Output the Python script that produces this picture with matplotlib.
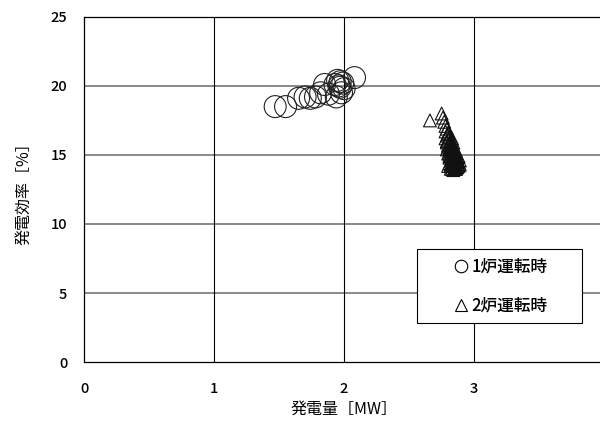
import matplotlib.pyplot as plt
from matplotlib.lines import Line2D
from matplotlib.patches import Rectangle

plt.rcParams['font.family'] = ['Noto Sans CJK JP', 'DejaVu Sans']
plt.rcParams['font.weight'] = 'medium'

# 1炉運転時
one_x = [1.47, 1.55, 1.65, 1.70, 1.74, 1.78, 1.82, 1.85, 1.88, 1.93, 1.95, 1.97,
         1.99, 1.98, 1.94, 1.96, 2.00, 1.97, 2.08]
one_y = [18.5, 18.5, 19.1, 19.2, 19.1, 19.2, 19.5, 20.1, 19.4, 20.1, 20.4, 19.9,
         20.2, 19.5, 19.2, 20.0, 19.8, 20.3, 20.6]

# 2炉運転時
two_x = [2.66, 2.75, 2.76, 2.77, 2.78, 2.79, 2.78, 2.80, 2.79, 2.81, 2.80, 2.82,
         2.79, 2.81, 2.83, 2.80, 2.82, 2.84, 2.81, 2.83, 2.85, 2.80, 2.82, 2.84,
         2.86, 2.81, 2.83, 2.85, 2.87, 2.82, 2.84, 2.86, 2.88, 2.81, 2.83, 2.85,
         2.87, 2.82, 2.84, 2.86, 2.88, 2.83, 2.85, 2.87, 2.82, 2.84, 2.86, 2.84,
         2.85, 2.83, 2.78, 2.80, 2.82, 2.79, 2.81, 2.83, 2.85, 2.87, 2.89, 2.88,
         2.86, 2.84, 2.82, 2.89, 2.87, 2.85, 2.83, 2.81, 2.84, 2.86, 2.80, 2.82,
         2.79, 2.80, 2.81, 2.83, 2.82, 2.84, 2.86, 2.88]
two_y = [17.5, 18.0, 17.7, 17.4, 17.1, 16.9, 16.7, 16.6, 16.4, 16.3, 16.1, 16.0,
         15.9, 15.8, 15.7, 15.6, 15.5, 15.4, 15.3, 15.3, 15.2, 15.1, 15.0, 15.0,
         14.9, 14.8, 14.8, 14.7, 14.7, 14.6, 14.6, 14.5, 14.5, 14.4, 14.4, 14.3,
         14.3, 14.2, 14.2, 14.1, 14.2, 14.0, 14.0, 14.1, 14.3, 14.5, 14.0, 13.9,
         14.1, 15.5, 16.2, 16.5, 15.9, 15.4, 15.1, 15.2, 15.0, 14.8, 14.6, 14.9,
         15.3, 15.6, 14.9, 14.3, 14.5, 14.4, 14.6, 14.9, 15.9, 14.0, 14.2, 14.0,
         16.0, 15.7, 15.5, 16.2, 15.6, 15.7, 15.1, 14.3]

x_ticks = [0, 1, 2, 3, 4]
y_ticks = [0, 5, 10, 15, 20, 25]
labels = ['1炉運転時', '2炉運転時']

fig = plt.figure(figsize=(6, 4.21), dpi=100)
ax = fig.add_axes([0.14, 0.14, 0.867, 0.82])

ax.scatter(one_x, one_y, s=250, marker='o', facecolors='none',
           edgecolors='#222222', linewidths=0.8, zorder=3)
ax.scatter(two_x, two_y, s=85, marker='^', facecolors='none',
           edgecolors='#111111', linewidths=0.8, zorder=3)

ax.set_xlim(0, 4)
ax.set_ylim(0, 25)
ax.set_xticks(x_ticks)
ax.set_yticks(y_ticks)
ax.tick_params(length=0, labelsize=10.5)
ax.tick_params(axis='x', pad=14)
ax.tick_params(axis='y', pad=12)

for t in y_ticks[1:-1]:
    ax.axhline(t, color='#808080', lw=1.3, zorder=1)
for t in x_ticks[1:-1]:
    ax.axvline(t, color='black', lw=0.8, zorder=1)
for s in ax.spines.values():
    s.set_color('black')
    s.set_linewidth(0.9)

ax.set_xlabel('発電量［MW］', fontsize=11.5, labelpad=4)
ax.set_ylabel('発電効率［%］', fontsize=11.5, labelpad=13)

# legend box
ax.add_patch(Rectangle((0.640, 0.113), 0.318, 0.2145, transform=ax.transAxes,
                       facecolor='white', edgecolor='black', lw=0.8, zorder=4))
handles = [Line2D([], [], ls='none', marker='o', mfc='none', mec='black', ms=9, mew=0.8),
           Line2D([], [], ls='none', marker='^', mfc='none', mec='black', ms=9, mew=0.8)]
ax.legend(handles, labels, loc='center', bbox_to_anchor=(0.800, 0.22),
          frameon=False, fontsize=12, handletextpad=0.1, labelspacing=1.25,
          handlelength=1.0, borderaxespad=0).set_zorder(5)

fig.savefig('out.png', dpi=100)
